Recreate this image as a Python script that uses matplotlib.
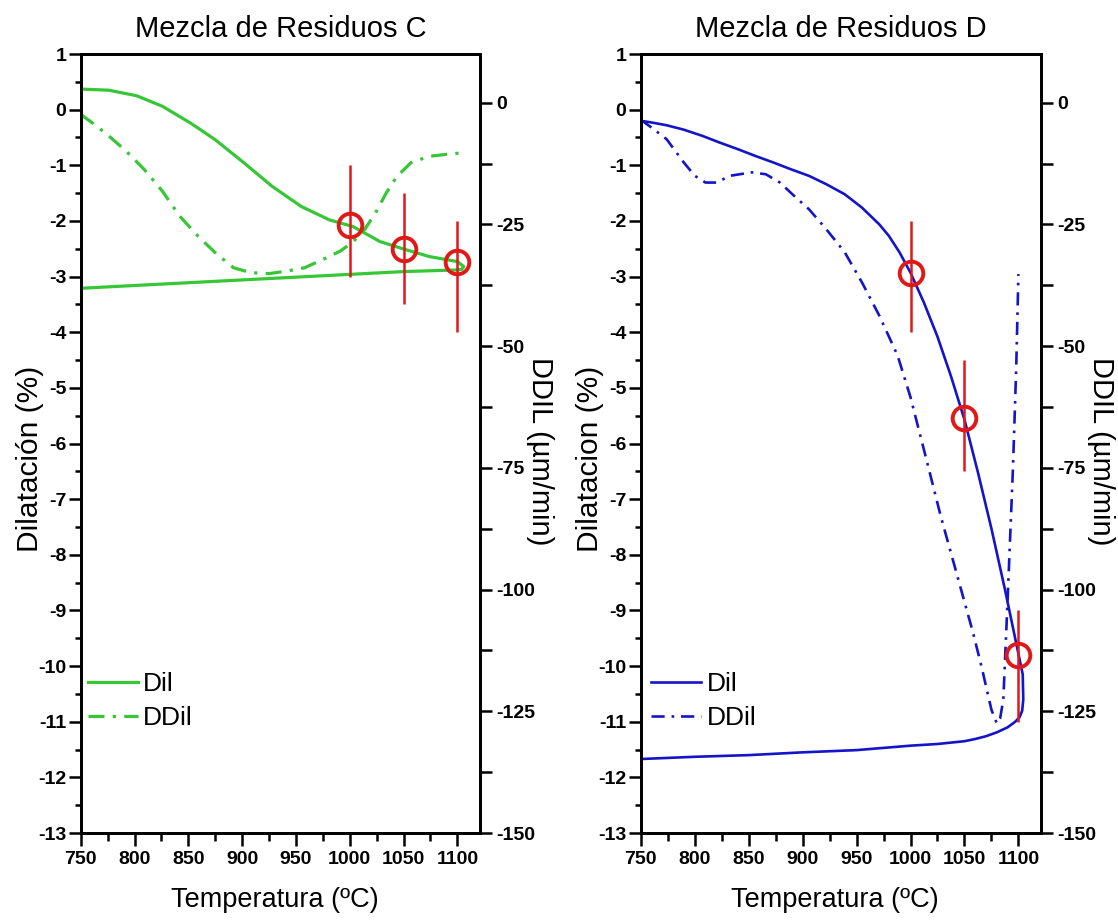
import numpy as np
import matplotlib.pyplot as plt
from matplotlib import font_manager
from matplotlib.ticker import MultipleLocator

plt.rcParams['axes.unicode_minus'] = False
plt.rcParams['font.family'] = ['Liberation Sans', 'DejaVu Sans']

# Mezcla C: dilatacion (calentamiento + enfriamiento) y derivada
c_dil_t = [750, 776, 802, 826, 852, 875, 902, 928, 955, 981, 1003, 1028, 1051, 1074, 1100, 1106,
           1104, 1100, 1050, 1000, 950, 900, 850, 800, 750]
c_dil = [0.37, 0.35, 0.25, 0.06, -0.24, -0.54, -0.96, -1.38, -1.74, -1.98, -2.10, -2.37, -2.51, -2.64,
         -2.73, -2.82, -2.87, -2.88, -2.91, -2.96, -3.01, -3.06, -3.11, -3.16, -3.21]
c_ddil_t = [750, 763, 776, 792, 809, 826, 842, 859, 875, 892, 908, 925, 941, 958, 975, 991, 1003,
            1014, 1024, 1034, 1044, 1057, 1074, 1090, 1104]
c_ddil = [-2.4, -4.5, -6.8, -9.9, -13.7, -18.2, -23.3, -27.4, -30.8, -33.9, -34.9, -35.1, -34.6, -33.9,
          -32.2, -30.5, -28.6, -26.0, -22.6, -18.5, -15.1, -12.3, -11.0, -10.6, -10.3]

# Mezcla D
d_dil_t = [750, 760, 774, 790, 807, 823, 840, 856, 873, 889, 906, 922, 939, 955, 971, 980, 990, 1000,
           1012.5, 1025, 1037.5, 1050, 1062.5, 1075, 1087.5, 1100, 1104, 1104.5, 1103.5, 1101, 1097,
           1090, 1080, 1070, 1060, 1050, 1025, 1000, 950, 900, 850, 800, 750]
d_dil = [-0.20, -0.23, -0.28, -0.36, -0.47, -0.59, -0.71, -0.83, -0.95, -1.07, -1.19, -1.34, -1.52,
         -1.76, -2.06, -2.27, -2.57, -2.93, -3.47, -4.08, -4.79, -5.57, -6.52, -7.53, -8.62, -9.78,
         -10.15, -10.60, -10.80, -10.92, -11.00, -11.10, -11.19, -11.26, -11.31, -11.35, -11.40,
         -11.43, -11.51, -11.55, -11.60, -11.63, -11.67]
d_ddil_t = [750, 760, 774, 790, 800, 810, 820, 833, 853, 866, 879, 892, 906, 922, 939, 955, 971, 988,
            1000, 1015, 1028, 1040, 1050, 1058, 1066, 1075, 1080, 1083, 1086, 1090, 1095, 1098, 1100]
d_ddil = [-3.5, -5.1, -7.5, -12.3, -15.0, -16.4, -16.4, -15.0, -14.3, -14.7, -16.4, -19.1, -21.9,
          -26.0, -30.7, -36.9, -43.7, -51.9, -60.5, -73.5, -84.9, -94.5, -102.5, -108.9, -116.0,
          -124.7, -127.5, -126.5, -122.6, -102.0, -74.7, -54.1, -35.2]

# puntos marcados con barra de error
pt_t = [1000, 1050, 1100]
c_pt = [-2.07, -2.50, -2.73]
c_bar = [-2.0, -2.5, -3.0]
d_pt = [-2.93, -5.55, -9.80]
d_bar = [-3.0, -5.5, -10.0]
bar_err = 1.0

green = '#36c636'
blue = '#1414c8'
red = '#e01818'

try:
    font_manager.findfont('Liberation Sans Narrow', fallback_to_default=False)
    tick_family = 'Liberation Sans Narrow'
except ValueError:
    tick_family = 'Liberation Sans'
tick_font = dict(family=tick_family, weight='bold', size=14)


def panel(rect, title, dil_t, dil, ddil_t, ddil, pts, bars, color, lw, ylab, leg_x):
    ax = fig.add_axes(rect)
    ax2 = ax.twinx()
    ax.set_zorder(ax2.get_zorder() + 1)
    ax.patch.set_visible(False)

    l1, = ax.plot(dil_t, dil, color=color, lw=lw, label='Dil')
    l2, = ax2.plot(ddil_t, ddil, color=color, lw=lw, ls=(0, (5, 2.6, 1, 2.6)), label='DDil')
    lo = np.array(pts) - (np.array(bars) - bar_err)
    hi = (np.array(bars) + bar_err) - np.array(pts)
    ax.errorbar(pt_t, pts, yerr=[lo, hi], fmt='none', ecolor=red, elinewidth=1.8, capsize=0, zorder=4)
    ax.plot(pt_t, pts, 'o', ms=17, mfc='none', mec=red, mew=2.8, zorder=5)

    ax.set_xlim(750, 1121)
    ax.set_ylim(-13, 1)
    ax2.set_ylim(-150, 10)
    ax.xaxis.set_major_locator(MultipleLocator(50))
    ax.xaxis.set_minor_locator(MultipleLocator(25))
    ax.yaxis.set_major_locator(MultipleLocator(1))
    ax.yaxis.set_minor_locator(MultipleLocator(0.5))
    ax2.yaxis.set_major_locator(MultipleLocator(25))
    ax2.yaxis.set_minor_locator(MultipleLocator(12.5))

    for a in (ax, ax2):
        for s in a.spines.values():
            s.set_linewidth(2.0)
    ax.tick_params(axis='x', which='major', direction='out', length=9.5, width=1.8, pad=3.5)
    ax.tick_params(axis='x', which='minor', direction='out', length=5.5, width=1.8)
    ax.tick_params(axis='y', which='major', direction='out', length=8.5, width=1.8, pad=2)
    ax.tick_params(axis='y', which='minor', direction='out', length=4.5, width=1.8)
    ax2.tick_params(axis='y', which='both', direction='out', length=8.5, width=1.8, pad=3)
    for lab in ax.get_xticklabels() + ax.get_yticklabels() + ax2.get_yticklabels():
        lab.set_fontproperties(tick_font)

    ax.set_title(title, fontsize=21, pad=12)
    ax.set_xlabel('Temperatura (ºC)', fontsize=19.5, va='center')
    ax.xaxis.set_label_coords(0.485, -0.086)
    ax.set_ylabel(ylab, fontsize=21.5, va='center', ha='center')
    ax.yaxis.set_label_coords(-0.127, 0.48)
    ax2.set_ylabel('DDIL (µm/min)', fontsize=21, rotation=270, va='center', ha='center')
    ax2.yaxis.set_label_coords(1.15, 0.49)

    ax.legend(handles=[l1, l2], loc='upper left', bbox_to_anchor=(leg_x, 0.207), frameon=False,
              fontsize=19, handlelength=1.9, handletextpad=0.2, labelspacing=0.4,
              borderpad=0, borderaxespad=0)
    return ax


fig = plt.figure(figsize=(11.18, 9.22), dpi=100)
panel([0.0722, 0.0965, 0.3571, 0.8449], 'Mezcla de Residuos C', c_dil_t, c_dil, c_ddil_t, c_ddil,
      c_pt, c_bar, green, 2.3, 'Dilatación (%)', 0.018)
panel([0.5731, 0.0965, 0.3581, 0.8449], 'Mezcla de Residuos D', d_dil_t, d_dil, d_ddil_t, d_ddil,
      d_pt, d_bar, blue, 1.9, 'Dilatacion (%)', 0.026)

fig.savefig('out.png', dpi=100)
